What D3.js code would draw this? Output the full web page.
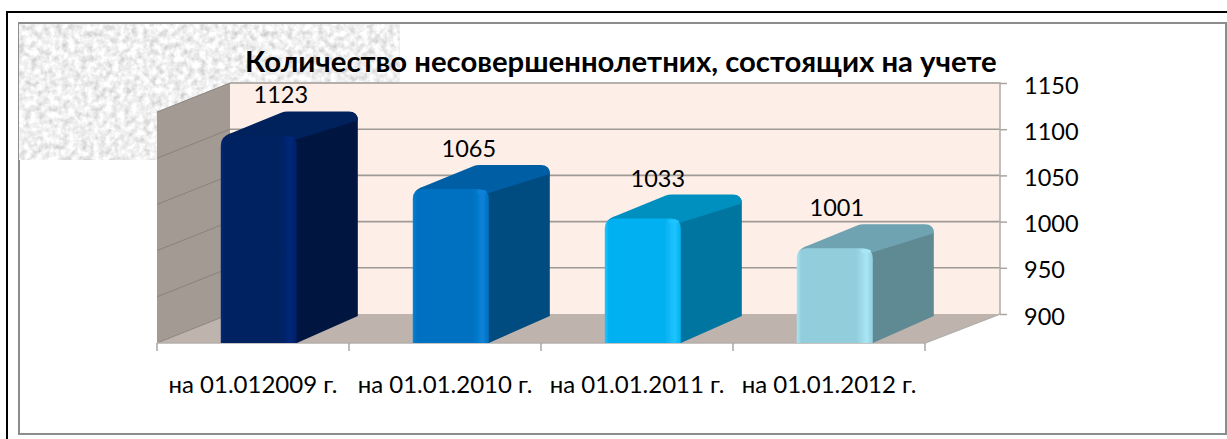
<!DOCTYPE html>
<html>
<head>
<meta charset="utf-8">
<script src="https://cdn.jsdelivr.net/npm/d3@7"></script>
<style>
html, body { margin: 0; padding: 0; background: #fff; }
svg { display: block; }
text { font-family: Lato, "Open Sans", sans-serif; fill: #000; }
</style>
</head>
<body>
<script>
//chart data
var categories = ["на 01.012009 г.", "на 01.01.2010 г.", "на 01.01.2011 г.", "на 01.01.2012 г."];
var values = [1123, 1065, 1033, 1001];
var yTicks = [900, 950, 1000, 1050, 1100, 1150];
var chartTitle = "Количество несовершеннолетних, состоящих на учете";

//bar colours: front, lit edge, side, top
var frontColors = ["#002060", "#0070c0", "#00b0f0", "#92cddc"];
var edgeColors = ["#00287a", "#0a82d8", "#20c4ff", "#a8e6f6"];
var sideColors = ["#001640", "#004b80", "#0075a0", "#5f8a94"];
var topColors = ["#00205c", "#005ea4", "#0090bf", "#6fa3b2"];

var w = 1227;
var h = 439;

var svg = d3.select("body")
            .append("svg")
            .attr("width", w)
            .attr("height", h);

var defs = svg.append("defs");

//noisy paper texture in the top left corner
var noise = defs.append("filter")
                .attr("id", "paper")
                .attr("x", 0).attr("y", 0)
                .attr("width", 1).attr("height", 1);
noise.append("feTurbulence")
     .attr("type", "fractalNoise")
     .attr("baseFrequency", 0.16)
     .attr("numOctaves", 4)
     .attr("seed", 4);
noise.append("feColorMatrix")
     .attr("type", "matrix")
     .attr("values", "0.7 0 0 0 0.52  0.7 0 0 0 0.52  0.7 0 0 0 0.52  0 0 0 0 1");
noise.append("feGaussianBlur")
     .attr("stdDeviation", 0.7);

//bars and walls are a little soft in the original
defs.append("filter")
    .attr("id", "soft")
    .attr("x", "-5%").attr("y", "-5%")
    .attr("width", "110%").attr("height", "110%")
    .append("feGaussianBlur")
    .attr("stdDeviation", 0.7);

//page frame
svg.append("rect").attr("x", 19).attr("y", 23).attr("width", 1207).attr("height", 411)
   .attr("fill", "#fff").attr("stroke", "#8c8c8c").attr("stroke-width", 2);
svg.append("rect").attr("x", 19).attr("y", 24).attr("width", 381).attr("height", 136)
   .attr("filter", "url(#paper)");
svg.append("line").attr("x1", 7).attr("x2", 7).attr("y1", 11).attr("y2", h)
   .attr("stroke", "#000").attr("stroke-width", 2);
svg.append("line").attr("x1", 6).attr("x2", w).attr("y1", 12).attr("y2", 12)
   .attr("stroke", "#000").attr("stroke-width", 2);

//3d box geometry: front plane, and how far the back plane is shifted
var frontLeft = 157, frontRight = 925, frontBase = 343;
var wallLeft = 230, wallRight = 1000;
var wallDy = 29;
var barDx = 61, barDy = 24;

var y = d3.scaleLinear().domain([900, 1150]).range([314, 83]);

var x = d3.scaleBand()
          .domain(categories)
          .range([frontLeft, frontRight])
          .paddingInner(0.604)
          .paddingOuter(0.302)
          .align(0.55);

var walls = svg.append("g").attr("filter", "url(#soft)");

//back wall
walls.append("rect")
     .attr("x", wallLeft).attr("y", y(1150))
     .attr("width", wallRight - wallLeft).attr("height", y(900) - y(1150))
     .attr("fill", "#fdefe8");

//left wall
walls.append("path")
     .attr("d", d3.line()([[frontLeft, y(1150) + wallDy], [wallLeft, y(1150)], [wallLeft, y(900)], [frontLeft, frontBase]]))
     .attr("fill", "#a39a94");

//floor
walls.append("path")
     .attr("d", d3.line()([[frontLeft, frontBase], [frontRight, frontBase], [wallRight, y(900)], [wallLeft, y(900)]]))
     .attr("fill", "#bfb3ae");

//gridlines, along the back wall and down the left wall
walls.selectAll("line.grid")
     .data(yTicks.filter(function(d) { return d > 900; }))
     .enter()
     .append("line")
     .attr("class", "grid")
     .attr("x1", wallLeft).attr("x2", wallRight)
     .attr("y1", function(d) { return y(d); })
     .attr("y2", function(d) { return y(d); })
     .attr("stroke", "#a09a96").attr("stroke-width", 1.6);

walls.selectAll("line.gridSide")
     .data(yTicks)
     .enter()
     .append("line")
     .attr("class", "gridSide")
     .attr("x1", frontLeft).attr("x2", wallLeft)
     .attr("y1", function(d) { return y(d) + wallDy; })
     .attr("y2", function(d) { return y(d); })
     .attr("stroke", "#8a827d").attr("stroke-width", 1);

//front edge of the floor and right edge of the wall
walls.append("path")
     .attr("d", d3.line()([[frontLeft, frontBase], [frontRight, frontBase], [wallRight, y(900)], [wallRight, y(1150)], [wallLeft, y(1150)]]))
     .attr("fill", "none").attr("stroke", "#b4b0ac").attr("stroke-width", 1.6);

//horizontal gradients for the front faces
var grads = defs.selectAll("linearGradient")
                .data(categories)
                .enter()
                .append("linearGradient")
                .attr("id", function(d, i) { return "front" + i; });
grads.append("stop").attr("offset", "0%").attr("stop-color", function(d, i) { return edgeColors[i]; });
grads.append("stop").attr("offset", "6%").attr("stop-color", function(d, i) { return frontColors[i]; });
grads.append("stop").attr("offset", "78%").attr("stop-color", function(d, i) { return frontColors[i]; });
grads.append("stop").attr("offset", "92%").attr("stop-color", function(d, i) { return edgeColors[i]; });
grads.append("stop").attr("offset", "100%").attr("stop-color", function(d, i) { return frontColors[i]; });

var barBack = function(d) { return y(d) + 3.5; };
var barFront = function(d) { return barBack(d) + barDy; };

var bars = svg.selectAll("g.bar")
              .data(values)
              .enter()
              .append("g")
              .attr("class", "bar")
              .attr("filter", "url(#soft)");

//side face
bars.append("path")
    .attr("fill", function(d, i) { return sideColors[i]; })
    .attr("d", function(d, i) {
        var x1 = x(categories[i]) + x.bandwidth(), top = barFront(d);
        var p = d3.path();
        p.moveTo(x1 - 3, top);
        p.lineTo(x1 + barDx - 8, top - barDy + 3);
        p.quadraticCurveTo(x1 + barDx, top - barDy, x1 + barDx, top - barDy + 9);
        p.lineTo(x1 + barDx, frontBase - barDy - 3);
        p.lineTo(x1, frontBase);
        p.lineTo(x1 - 3, frontBase);
        p.closePath();
        return p.toString();
    });

//top face
bars.append("path")
    .attr("fill", function(d, i) { return topColors[i]; })
    .attr("d", function(d, i) {
        var x0 = x(categories[i]), x1 = x0 + x.bandwidth(), top = barFront(d);
        var p = d3.path();
        p.moveTo(x0 + 2, top + 4);
        p.quadraticCurveTo(x0 + 3, top, x0 + 12, top - 3);
        p.lineTo(x0 + barDx, top - barDy + 1);
        p.quadraticCurveTo(x0 + barDx + 2, top - barDy, x0 + barDx + 6, top - barDy);
        p.lineTo(x1 + barDx - 9, top - barDy);
        p.quadraticCurveTo(x1 + barDx, top - barDy, x1 + barDx, top - barDy + 9);
        p.lineTo(x1, top + 4);
        p.closePath();
        return p.toString();
    });

//front face, rounded at the top
bars.append("path")
    .attr("fill", function(d, i) { return "url(#front" + i + ")"; })
    .attr("d", function(d, i) {
        var x0 = x(categories[i]), x1 = x0 + x.bandwidth(), top = barFront(d), r = 10;
        var p = d3.path();
        p.moveTo(x0, frontBase);
        p.lineTo(x0, top + r);
        p.quadraticCurveTo(x0, top, x0 + r, top);
        p.lineTo(x1 - r, top);
        p.quadraticCurveTo(x1, top, x1, top + r);
        p.lineTo(x1, frontBase);
        p.closePath();
        return p.toString();
    });

//small highlight on the front top corner
bars.append("ellipse")
    .attr("cx", function(d, i) { return x(categories[i]) + x.bandwidth() - 7; })
    .attr("cy", function(d) { return barFront(d) + 3; })
    .attr("rx", 5).attr("ry", 2)
    .attr("fill", function(d, i) { return edgeColors[i]; })
    .attr("opacity", 0.9);

//value axis on the right
var yAxis = d3.axisRight(y)
              .tickValues(yTicks)
              .tickFormat(d3.format("d"))
              .tickSize(7)
              .tickPadding(17);

var yG = svg.append("g")
            .attr("transform", "translate(" + wallRight + ",0)")
            .call(yAxis);
yG.select(".domain").remove();
yG.selectAll("line").attr("stroke", "#a9a5a2").attr("stroke-width", 1.5);
yG.selectAll("text").attr("font-size", 23.5).attr("font-family", null).attr("y", 2.5);

//category axis: labels from the band scale, tick marks on the band edges
var xAxis = d3.axisBottom(x).tickSize(0).tickPadding(33);
var xG = svg.append("g")
            .attr("transform", "translate(0," + frontBase + ")")
            .call(xAxis);
xG.select(".domain").remove();
xG.selectAll("text").attr("font-size", 24).attr("font-family", null)
  .attr("x", function(d) { return frontLeft + (categories.indexOf(d) + 0.5) * x.step() - x(d) - x.bandwidth() / 2; });

var edge = d3.scaleLinear().domain([0, categories.length]).range([frontLeft, frontRight]);
svg.selectAll("line.catTick")
   .data(d3.range(categories.length + 1))
   .enter()
   .append("line")
   .attr("class", "catTick")
   .attr("x1", function(d) { return edge(d); })
   .attr("x2", function(d) { return edge(d); })
   .attr("y1", frontBase).attr("y2", frontBase + 8)
   .attr("stroke", "#a9a5a2").attr("stroke-width", 1.5);

//value labels, slightly shifted by hand in the original
var labelShift = [60, 56, 53, 40];
svg.selectAll("text.value")
   .data(values)
   .enter()
   .append("text")
   .attr("class", "value")
   .attr("text-anchor", "middle")
   .attr("font-size", 23.5)
   .attr("x", function(d, i) { return x(categories[i]) + labelShift[i]; })
   .attr("y", function(d) { return barBack(d) - 8; })
   .text(function(d) { return d; });

//title
svg.append("text")
   .attr("x", 245).attr("y", 72)
   .attr("font-size", 29.3)
   .attr("font-weight", 700)
   .text(chartTitle);
</script>
</body>
</html>
